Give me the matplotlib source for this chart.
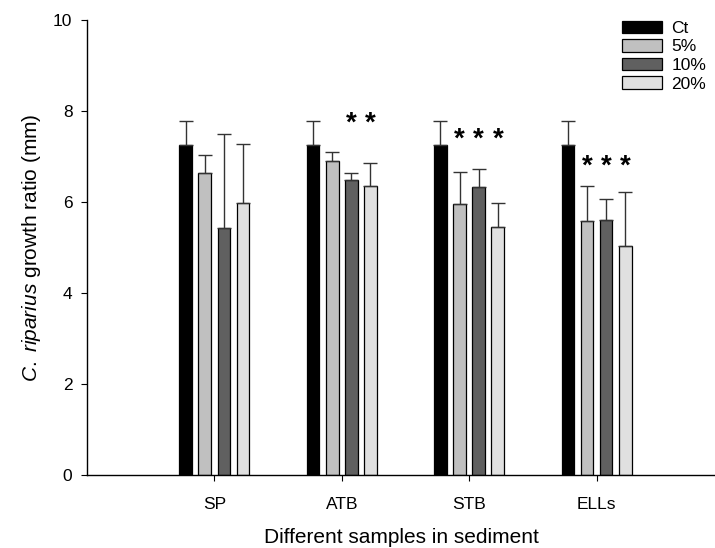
import numpy as np
import matplotlib
matplotlib.use("Agg")
import matplotlib.pyplot as plt

plt.rcParams['font.family'] = ['Liberation Sans', 'DejaVu Sans']
plt.rcParams['mathtext.fontset'] = 'custom'
plt.rcParams['mathtext.it'] = 'Liberation Sans:italic'
plt.rcParams['mathtext.rm'] = 'Liberation Sans'

# data
categories = ['SP', 'ATB', 'STB', 'ELLs']
series_names = ['Ct', '5%', '10%', '20%']
ct = [7.26, 7.25, 7.25, 7.25]
ct_err = [0.52, 0.53, 0.53, 0.53]
p5 = [6.64, 6.91, 5.96, 5.59]
p5_err = [0.39, 0.19, 0.71, 0.76]
p10 = [5.42, 6.48, 6.32, 5.60]
p10_err = [2.07, 0.16, 0.41, 0.47]
p20 = [5.98, 6.35, 5.46, 5.03]
p20_err = [1.29, 0.51, 0.52, 1.18]

# significance stars: category index, series indexes, height
star_cat = [1, 2, 3]
star_series = [[2, 3], [1, 2, 3], [1, 2, 3]]
star_y = [7.72, 7.36, 6.78]

colors = ['#000000', '#c0c0c0', '#606060', '#e0e0e0']
means = [ct, p5, p10, p20]
errs = [ct_err, p5_err, p10_err, p20_err]

fig = plt.figure(figsize=(7.15, 5.48), dpi=100)
ax = fig.add_axes([87 / 715, 1 - 475 / 548, 628 / 715, 455 / 548])

x = np.arange(1, len(categories) + 1)
step = 0.15
width = 0.1
offsets = [(i - 1.5) * step for i in range(4)]

for i in range(4):
    xi = x + offsets[i]
    ax.bar(xi, means[i], width, color=colors[i], edgecolor='black',
           linewidth=0.9, label=series_names[i], zorder=2)
    ax.errorbar(xi, means[i], yerr=[np.zeros(4), errs[i]], fmt='none',
                ecolor='#333333', elinewidth=1.0, capsize=4.8, capthick=1.0,
                zorder=3)

for c, ss, yy in zip(star_cat, star_series, star_y):
    for s in ss:
        ax.text(x[c] + offsets[s], yy, '*', ha='center', va='center',
                fontsize=20, fontweight='bold')

ax.set_xlim(0, 4.93)
ax.set_ylim(0, 10)
ax.set_xticks(x)
ax.set_xticklabels(categories)
ax.set_yticks([0, 2, 4, 6, 8, 10])
ax.spines['top'].set_visible(False)
ax.spines['right'].set_visible(False)
ax.spines['left'].set_linewidth(1.0)
ax.spines['bottom'].set_linewidth(1.0)
ax.tick_params(axis='y', direction='out', length=4.5, width=0.8,
               labelsize=12.5, pad=6)
ax.tick_params(axis='x', direction='out', length=4, width=0.8,
               labelsize=12.5, pad=12)

ax.set_xlabel('Different samples in sediment', fontsize=15)
ax.xaxis.set_label_coords(0.5, -0.138)
ax.xaxis.label.set_va('center')
ax.set_ylabel(r'$\mathit{C.\ riparius}$ growth ratio (mm)', fontsize=15)
ax.yaxis.set_label_coords(-55 / 628, 0.5)
ax.yaxis.label.set_va('center')

ax.legend(loc='upper left', bbox_to_anchor=(621.7 / 715, 1 - 20.5 / 548),
          bbox_transform=fig.transFigure, frameon=False, fontsize=12.5,
          borderpad=0, borderaxespad=0, handlelength=2.3, handleheight=0.75,
          handletextpad=0.55, labelspacing=0.18)

fig.savefig('out.png', dpi=100)
